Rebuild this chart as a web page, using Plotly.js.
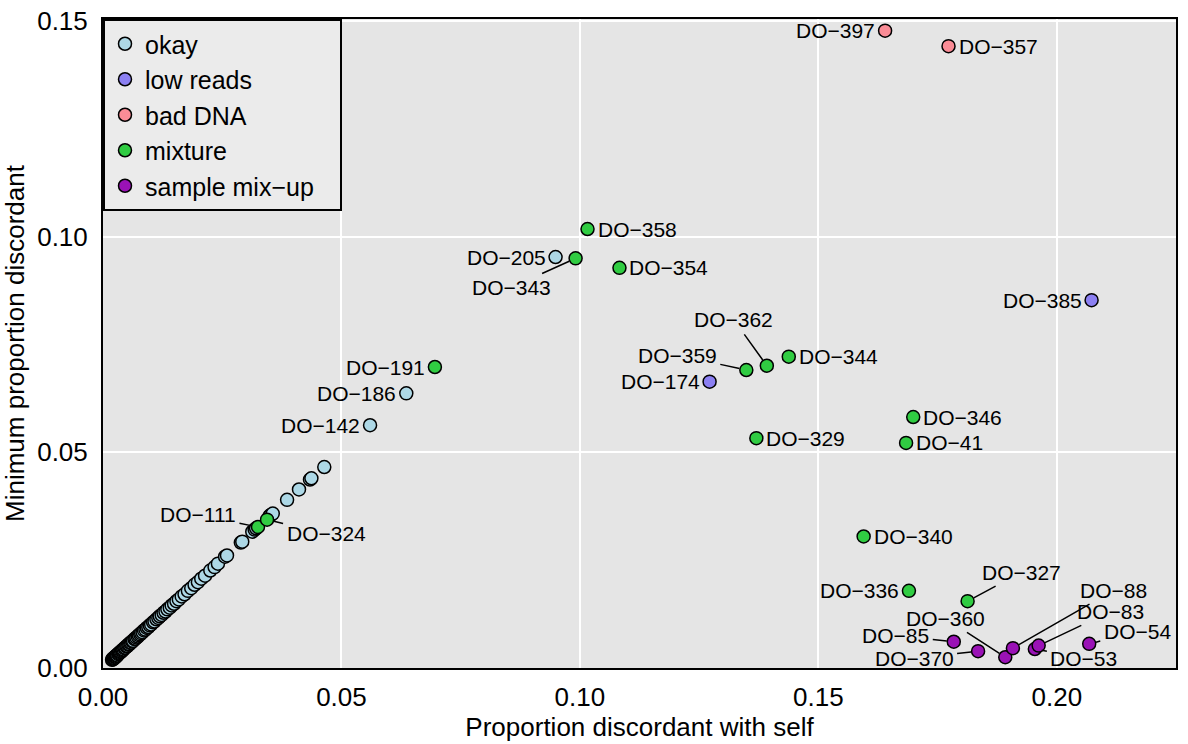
<!DOCTYPE html>
<html>
<head>
<meta charset="utf-8">
<script src="https://cdn.plot.ly/plotly-3.0.1.min.js"></script>
<style>
html,body{margin:0;padding:0;background:#fff;}
#chart{width:1188px;height:744px;}
</style>
</head>
<body>
<div id="chart"></div>
<script>
// ---------------- data ----------------
// unlabeled "okay" samples along the diagonal
var diagX = [0.0019,0.0020,0.0021,0.0022,0.0023,0.0024,0.0025,0.0026,0.0027,0.0028,0.0029,0.0030,0.0032,0.0033,0.0035,0.0036,0.0038,0.0040,0.0041,0.0043,0.0045,0.0047,0.0049,0.0051,0.0053,0.0055,0.0057,0.0059,0.0061,0.0063,0.0066,0.0068,0.0070,0.0073,0.0075,0.0078,0.0080,0.0083,0.0086,0.0089,0.0092,0.0095,0.0098,0.0101,0.0105,0.0108,0.0112,0.0116,0.0119,0.0123,0.0127,0.0131,0.0135,0.0140,0.0144,0.0149,0.0154,0.0159,0.0165,0.0171,0.0178,0.0185,0.0192,0.0199,0.0206,0.0214,0.0225,0.0234,0.0241,0.0256,0.0260,0.0289,0.0292,0.0313,0.0318,0.0321,0.0349,0.0352,0.0356,0.0386,0.0411,0.0434,0.0437,0.0464];
var diagY = [0.0019,0.0021,0.0020,0.0022,0.0024,0.0023,0.0025,0.0027,0.0026,0.0028,0.0030,0.0029,0.0032,0.0034,0.0035,0.0037,0.0038,0.0040,0.0042,0.0043,0.0046,0.0047,0.0050,0.0051,0.0054,0.0055,0.0058,0.0059,0.0062,0.0063,0.0067,0.0068,0.0071,0.0073,0.0076,0.0078,0.0081,0.0083,0.0087,0.0089,0.0093,0.0095,0.0099,0.0101,0.0106,0.0108,0.0113,0.0116,0.0120,0.0123,0.0128,0.0131,0.0136,0.0140,0.0145,0.0149,0.0155,0.0159,0.0166,0.0171,0.0179,0.0185,0.0193,0.0199,0.0207,0.0214,0.0226,0.0234,0.0242,0.0258,0.0261,0.0291,0.0293,0.0316,0.0321,0.0324,0.0352,0.0355,0.0358,0.0390,0.0414,0.0437,0.0440,0.0466];

// labeled samples
var sampleIds = ["DO\u2212205","DO\u2212186","DO\u2212142",
                 "DO\u2212174","DO\u2212385",
                 "DO\u2212397","DO\u2212357",
                 "DO\u2212358","DO\u2212343","DO\u2212354","DO\u2212191","DO\u2212359","DO\u2212362","DO\u2212344","DO\u2212329","DO\u2212346","DO\u221241","DO\u2212340","DO\u2212336","DO\u2212327","DO\u2212111","DO\u2212324",
                 "DO\u221285","DO\u2212370","DO\u2212360","DO\u221288","DO\u221253","DO\u221283","DO\u221254"];
var selfX = [0.0949,0.0636,0.0560,
             0.1272,0.2073,
             0.1640,0.1773,
             0.1016,0.0991,0.1083,0.0696,0.1349,0.1392,0.1438,0.1370,0.1699,0.1684,0.1595,0.1690,0.1813,0.0325,0.0344,
             0.1784,0.1835,0.1892,0.1908,0.1954,0.1962,0.2068];
var minY = [0.0953,0.0637,0.0563,
            0.0664,0.0853,
            0.1478,0.1442,
            0.1018,0.0950,0.0928,0.0698,0.0691,0.0701,0.0722,0.0533,0.0582,0.0522,0.0305,0.0179,0.0155,0.0327,0.0344,
            0.0061,0.0039,0.0025,0.0046,0.0044,0.0052,0.0056];
var sampleStatus = ["okay","okay","okay",
              "low reads","low reads",
              "bad DNA","bad DNA",
              "mixture","mixture","mixture","mixture","mixture","mixture","mixture","mixture","mixture","mixture","mixture","mixture","mixture","mixture","mixture",
              "sample mix-up","sample mix-up","sample mix-up","sample mix-up","sample mix-up","sample mix-up","sample mix-up"];

var categories = ["okay","low reads","bad DNA","mixture","sample mix-up"];
var legendNames = ["okay","low reads","bad DNA","mixture","sample mix\u2212up"];
var xTickVals = [0,0.05,0.10,0.15,0.20];
var xTickText = ["0.00","0.05","0.10","0.15","0.20"];
var yTickVals = [0,0.05,0.10,0.15];
var yTickText = ["0.00","0.05","0.10","0.15"];

// ---------------- styles ----------------
var colors = {"okay":"#ADD8E6","low reads":"#8C80F2","bad DNA":"#FA8C96","mixture":"#30CC42","sample mix-up":"#9A12B6"};
// label placement: "L"/"R" = beside point, or [ax, ay] pixel offset with leader line
var labelPos = {
 "DO\u2212205":"L","DO\u2212186":"L","DO\u2212142":"L","DO\u2212174":"L","DO\u2212385":"L",
 "DO\u2212397":"L","DO\u2212357":"R","DO\u2212358":"R","DO\u2212354":"R","DO\u2212191":"L",
 "DO\u2212344":"R","DO\u2212329":"R","DO\u2212346":"R","DO\u221241":"R","DO\u2212340":"R","DO\u2212336":"L",
 "DO\u2212343":[-64,29],"DO\u2212359":[-69,-15],"DO\u2212362":[-33,-46],"DO\u2212327":[54,-29],
 "DO\u221288":[101,-58],"DO\u221283":[72,-34],"DO\u221254":[48,-12],"DO\u221253":[49,9],
 "DO\u2212360":[-60,-39],"DO\u221285":[-58,-6],"DO\u2212370":[-64,7],"DO\u2212111":[-60,-12],"DO\u2212324":[59,14]
};

var FONT = "Liberation Sans, Arial, Helvetica, sans-serif";
var PAD = "\u00a0\u00a0\u00a0"; // legend width padding

var traces = categories.map(function(cat, k){
  var xs = [], ys = [];
  if (cat === "okay") { xs = diagX.slice(); ys = diagY.slice(); }
  for (var i = 0; i < sampleIds.length; i++) {
    if (sampleStatus[i] === cat) { xs.push(selfX[i]); ys.push(minY[i]); }
  }
  return {
    type: "scatter", mode: "markers",
    name: legendNames[k] + (k === categories.length - 1 ? PAD : ""),
    x: xs, y: ys,
    marker: {size: 13, color: colors[cat], line: {color: "#000", width: 1.5}},
    hoverinfo: "skip"
  };
});

var annotations = sampleIds.map(function(id, i){
  var p = labelPos[id];
  var a = {x: selfX[i], y: minY[i], xref: "x", yref: "y", text: id,
           font: {family: FONT, size: 21, color: "#000"}};
  if (p === "L") { a.showarrow = false; a.xanchor = "right"; a.yanchor = "middle"; a.xshift = -8; }
  else if (p === "R") { a.showarrow = false; a.xanchor = "left"; a.yanchor = "middle"; a.xshift = 8; }
  else { a.showarrow = true; a.ax = p[0]; a.ay = p[1]; a.arrowhead = 0; a.arrowwidth = 1.5;
         a.arrowcolor = "#000"; a.standoff = 7; a.startstandoff = 2; }
  return a;
});

var layout = {
  width: 1188, height: 744,
  margin: {l: 103, r: 12, t: 19, b: 76},
  paper_bgcolor: "#fff", plot_bgcolor: "#e5e5e5",
  font: {family: FONT, size: 26, color: "#000"},
  showlegend: true,
  legend: {x: 0, y: 1, xanchor: "left", yanchor: "top", bgcolor: "#ebebeb",
           bordercolor: "#000", borderwidth: 2, font: {family: FONT, size: 25}},
  xaxis: {range: [0, 0.225], tickvals: xTickVals, ticktext: xTickText,
          showgrid: true, gridcolor: "#fff", gridwidth: 2, zeroline: false,
          showline: true, linecolor: "#000", linewidth: 2, mirror: true,
          ticks: "", ticklabelstandoff: 5,
          title: {text: "Proportion discordant with self", font: {family: FONT, size: 26}, standoff: 4}},
  yaxis: {range: [0, 0.1505], tickvals: yTickVals, ticktext: yTickText,
          showgrid: true, gridcolor: "#fff", gridwidth: 2, zeroline: false,
          showline: true, linecolor: "#000", linewidth: 2, mirror: true,
          ticks: "", ticklabelstandoff: 8,
          title: {text: "Minimum proportion discordant", font: {family: FONT, size: 26}, standoff: 6}},
  annotations: annotations
};

Plotly.newPlot("chart", traces, layout, {displayModeBar: false, staticPlot: true});
</script>
</body>
</html>
